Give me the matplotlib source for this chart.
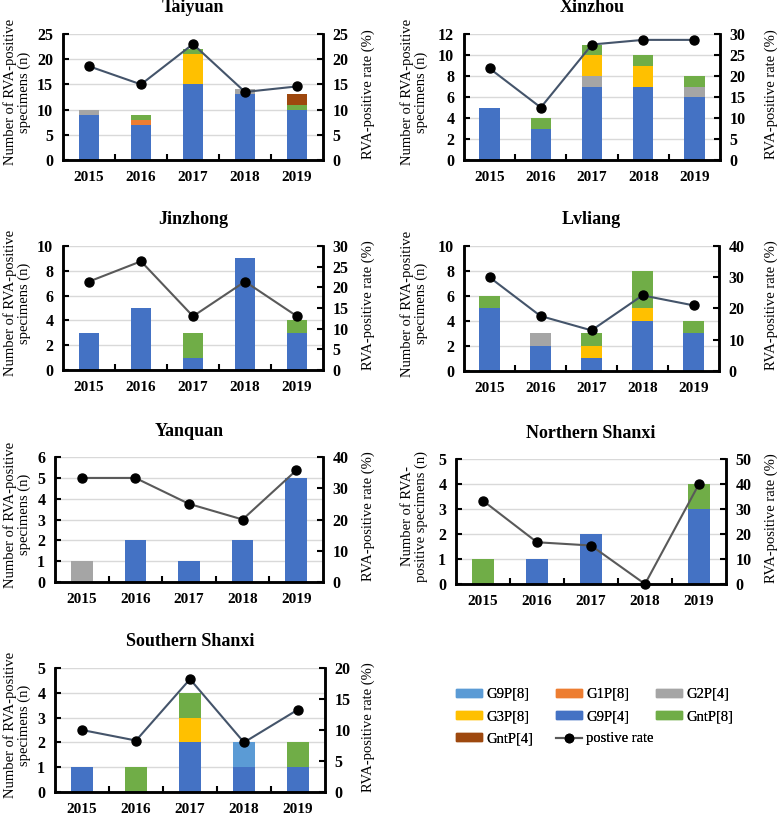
import matplotlib
matplotlib.use("Agg")
import matplotlib.pyplot as plt
import numpy as np
from matplotlib.patches import Patch
from matplotlib.lines import Line2D

plt.rcParams['font.family'] = ['Liberation Serif', 'DejaVu Serif']

years = ["2015", "2016", "2017", "2018", "2019"]
genotypes = ["G9P[4]", "G9P[8]", "G1P[8]", "G2P[4]", "G3P[8]", "GntP[8]", "GntP[4]"]
colors = {"G9P[8]": "#5B9BD5", "G1P[8]": "#ED7D31", "G2P[4]": "#A5A5A5",
          "G3P[8]": "#FFC000", "G9P[4]": "#4472C4", "GntP[8]": "#70AD47",
          "GntP[4]": "#9E480E"}

# Taiyuan
taiyuan = {"G9P[4]": [9, 7, 15, 13, 10], "G1P[8]": [0, 1, 0, 0, 0],
           "G2P[4]": [1, 0, 0, 1, 0], "G3P[8]": [0, 0, 6, 0, 0],
           "GntP[8]": [0, 1, 1, 0, 1], "GntP[4]": [0, 0, 0, 0, 2]}
taiyuan_rate = [18.6, 15.0, 23.0, 13.5, 14.6]
# Xinzhou
xinzhou = {"G9P[4]": [5, 3, 7, 7, 6], "G2P[4]": [0, 0, 1, 0, 1],
           "G3P[8]": [0, 0, 2, 2, 0], "GntP[8]": [0, 1, 1, 1, 1]}
xinzhou_rate = [21.8, 12.5, 27.5, 28.6, 28.6]
# Jinzhong
jinzhong = {"G9P[4]": [3, 5, 1, 9, 3], "GntP[8]": [0, 0, 2, 0, 1]}
jinzhong_rate = [21.4, 26.3, 13.0, 21.4, 13.0]
# Lvliang
lvliang = {"G9P[4]": [5, 2, 1, 4, 3], "G2P[4]": [0, 1, 0, 0, 0],
           "G3P[8]": [0, 0, 1, 1, 0], "GntP[8]": [1, 0, 1, 3, 1]}
lvliang_rate = [30.0, 17.6, 13.0, 24.2, 21.0]
# Yanquan
yanquan = {"G9P[4]": [0, 2, 1, 2, 5], "G2P[4]": [1, 0, 0, 0, 0]}
yanquan_rate = [33.3, 33.3, 25.0, 20.0, 35.7]
# Northern Shanxi
northern = {"G9P[4]": [0, 1, 2, 0, 3], "GntP[8]": [1, 0, 0, 0, 1]}
northern_rate = [33.3, 16.7, 15.4, 0.0, 40.0]
# Southern Shanxi
southern = {"G9P[4]": [1, 0, 2, 1, 1], "G9P[8]": [0, 0, 0, 1, 0],
            "G3P[8]": [0, 0, 1, 0, 0], "GntP[8]": [0, 1, 1, 0, 1]}
southern_rate = [10.0, 8.3, 18.2, 8.0, 13.3]

W, H = 778, 816
fig = plt.figure(figsize=(W / 100, H / 100), dpi=100)

panels = [
    ("Taiyuan", taiyuan, taiyuan_rate, 25, 5, 25, 5, (63, 323, 34, 160), "#44546A",
     "Number of RVA-positive\nspecimens (n)", 17, 368),
    ("Xinzhou", xinzhou, xinzhou_rate, 12, 2, 30, 5, (464, 720, 34, 160), "#44546A",
     "Number of RVA-positive\nspecimens (n)", 414, 771),
    ("Jinzhong", jinzhong, jinzhong_rate, 10, 2, 30, 5, (63, 323, 246, 370), "#595959",
     "Number of RVA-positive\nspecimens (n)", 17, 368),
    ("Lvliang", lvliang, lvliang_rate, 10, 2, 40, 10, (464, 719, 246, 371), "#44546A",
     "Number of RVA-positive\nspecimens (n)", 414, 771),
    ("Yanquan", yanquan, yanquan_rate, 6, 1, 40, 10, (55, 323, 457, 582), "#595959",
     "Number of RVA-positive\nspecimens (n)", 17, 368),
    ("Northern Shanxi", northern, northern_rate, 5, 1, 50, 10, (456, 726, 459, 584), "#595959",
     "Number of RVA-\npositive specimens (n)", 414, 771),
    ("Southern Shanxi", southern, southern_rate, 5, 1, 20, 5, (55, 325, 668, 792), "#44546A",
     "Number of RVA-positive\nspecimens (n)", 17, 368),
]

x = np.arange(len(years))
for (title, data, rate, lmax, lstep, rmax, rstep, box, lc, ylab, lx, rx) in panels:
    l, r, t, b = box
    ax = fig.add_axes([l / W, 1 - b / H, (r - l) / W, (b - t) / H])
    bottom = np.zeros(len(years))
    for g in genotypes:
        if g in data:
            vals = np.array(data[g], dtype=float)
            ax.bar(x, vals, width=0.4, bottom=bottom, color=colors[g], zorder=2)
            bottom += vals
    ax.set_xlim(-0.5, len(years) - 0.5)
    ax.set_ylim(0, lmax)
    ax.set_yticks(np.arange(0, lmax + 0.001, lstep))
    ax.set_xticks(x)
    ax.set_xticklabels(years, fontweight='bold', fontsize=11)
    ax.set_xticks(np.arange(0.5, len(years) - 1, 1.0), minor=True)
    ax.tick_params(axis='x', which='major', length=0, pad=8)
    ax.tick_params(axis='x', which='minor', direction='in', length=4, width=1.5)
    ax.tick_params(axis='y', direction='in', length=4, width=1.5, pad=7, labelsize=11.5)
    for lab in ax.get_yticklabels():
        lab.set_fontweight('bold')
    ax.grid(axis='y', color='#D9D9D9', linewidth=1, zorder=0)
    ax.set_axisbelow(True)
    ax.spines['top'].set_visible(False)
    for s in ['left', 'bottom', 'right']:
        ax.spines[s].set_linewidth(1.8)
    ax2 = ax.twinx()
    ax2.plot(x, rate, color=lc, linewidth=1.5, marker='o', markersize=6.5,
             markerfacecolor='black', markeredgecolor='black', zorder=5, clip_on=False)
    ax2.set_ylim(0, rmax)
    ax2.set_yticks(np.arange(0, rmax + 0.001, rstep))
    ax2.tick_params(axis='y', direction='in', length=4, width=1.5, pad=7, labelsize=11.5)
    for lab in ax2.get_yticklabels():
        lab.set_fontweight('bold')
    ax2.spines['top'].set_visible(False)
    for s in ['left', 'bottom', 'right']:
        ax2.spines[s].set_linewidth(1.8)
    cx = (l + r) / 2
    cy = (t + b) / 2
    fig.text(cx / W, 1 - (t - 26) / H, title, ha='center', va='center',
             fontsize=13, fontweight='bold')
    fig.text(lx / W, 1 - (cy - 5) / H, ylab, ha='center', va='center', rotation=90,
             fontsize=10.5, linespacing=1.05)
    fig.text(rx / W, 1 - (cy - 3) / H, "RVA-positive rate (%)", ha='center', va='center',
             rotation=90, fontsize=10.5)

# Legend: three single-column legends so rows align like the reference grid
def patch(name):
    return Patch(facecolor=colors[name], edgecolor=colors[name], label=name)

rate_handle = Line2D([0], [0], color='#595959', linewidth=1.5, marker='o',
                     markersize=6, markerfacecolor='black',
                     markeredgecolor='black', label="postive rate")
legend_cols = [
    ([patch("G9P[8]"), patch("G3P[8]"), patch("GntP[4]")], 456),
    ([patch("G1P[8]"), patch("G9P[4]"), rate_handle], 556),
    ([patch("G2P[4]"), patch("GntP[8]")], 656),
]
for hs, lx0 in legend_cols:
    lg = fig.legend(handles=hs, ncol=1, loc='upper left',
                    bbox_to_anchor=(lx0 / W, 1 - 688 / H), frameon=False,
                    fontsize=10.5, handlelength=1.75, handleheight=0.45,
                    labelspacing=0.62, handletextpad=0.3, borderpad=0,
                    borderaxespad=0)
    fig.add_artist(lg)

fig.savefig("out.png", dpi=100)
